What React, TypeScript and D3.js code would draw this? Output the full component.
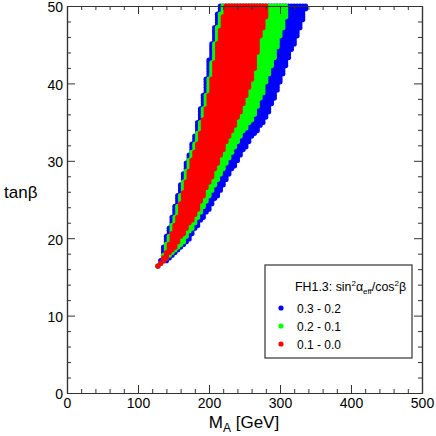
import React, { useEffect, useRef } from "react";
import { select, scaleLinear, axisBottom, axisTop, axisLeft, axisRight, range } from "d3";

// visible band edges of the scan region (M_A in GeV at given tanβ rows)
const tanBetaRows = [16.4, 17.6, 19.3, 22.8, 26.2, 29.7, 33.1, 35.7, 38.7, 42.2, 45.6, 48.2, 50];
const blueLeft = [129.6, 132.0, 136.0, 147.0, 156.5, 166.0, 178.5, 184.5, 191.0, 197.6, 203.7, 208.5, 213.1];
const greenLeft = [129.6, 133.8, 139.4, 150.8, 160.2, 169.6, 182.0, 188.3, 195.0, 201.8, 207.7, 213.2, 217.8];
const redLeft = [129.6, 135.6, 142.7, 154.5, 163.8, 173.2, 185.6, 192.0, 199.0, 206.0, 211.7, 217.9, 222.5];
const redRight = [129.6, 142.7, 156.8, 180.3, 196.8, 213.1, 229.0, 242.7, 255.4, 266.2, 271.8, 280.3, 283.5];
const greenRight = [129.6, 146.0, 163.8, 187.3, 206.0, 225.8, 244.8, 264.8, 276.5, 289.7, 300.0, 308.5, 311.7];
const blueRight = [129.6, 150.7, 168.6, 194.4, 217.9, 239.0, 262.4, 283.5, 295.4, 308.5, 323.5, 333.8, 338.5];

// scan grid
const tanStep = 0.35;
const maStep = 4;

const xMajor = [0, 100, 200, 300, 400, 500];
const yMajor = [0, 10, 20, 30, 40, 50];
const legendLabels = ["0.3 - 0.2", "0.2 - 0.1", "0.1 - 0.0"];
const bandColors = ["#0000ff", "#00ff00", "#ff0000"];

const W = 436;
const H = 436;
const dotR = 2.6;

export default function App() {
  const ref = useRef(null);

  useEffect(() => {
    const svg = select(ref.current);
    svg.selectAll("*").remove();

    const x = scaleLinear().domain([0, 500]).range([67, 422]);
    const y = scaleLinear().domain([0, 50]).range([393, 6]);
    const font = "'Liberation Sans', Arial, sans-serif";

    // piecewise edges
    const edge = (arr) => scaleLinear().domain(tanBetaRows).range(arr);
    const bands = [
      [edge(blueLeft), edge(blueRight)],
      [edge(greenLeft), edge(greenRight)],
      [edge(redLeft), edge(redRight)],
    ];
    // edges were read at the outside of the dots: pull centres in by a radius
    const rGeV = x.invert(67 + dotR) - 0.8;

    const nRows = Math.round((50 - tanBetaRows[0]) / tanStep);
    const maGrid = range(100, 360, maStep);

    bands.forEach(([lo, hi], b) => {
      const pts = [];
      for (let i = 0; i <= nRows; i++) {
        const t = Math.min(50, +(tanBetaRows[0] + i * tanStep).toFixed(2));
        let L = lo(t) + rGeV;
        let R = hi(t) - rGeV;
        if (L > R) {
          const mid = (lo(t) + hi(t)) / 2;
          L = mid;
          R = mid;
        }
        maGrid.forEach((m) => {
          if (m >= L - maStep / 2 && m <= R + maStep / 2) pts.push([m, t]);
        });
      }
      svg.append("g")
        .selectAll("circle")
        .data(pts)
        .join("circle")
        .attr("cx", (d) => x(d[0]))
        .attr("cy", (d) => y(d[1]))
        .attr("r", dotR)
        .attr("fill", bandColors[b]);
    });

    // axes, ticks pointing inward
    const styleAxis = (g) => {
      g.select(".domain").attr("stroke", "#333").attr("stroke-width", 1.2);
      g.selectAll(".tick line").attr("stroke", "#333").attr("stroke-width", 1);
      g.selectAll(".tick text").attr("fill", "#000").style("font-family", font).style("font-size", "14px");
    };
    const minorX = range(0, 501, 20).filter((v) => v % 100 !== 0);
    const minorY = range(0, 51, 2).filter((v) => v % 10 !== 0);

    svg.append("g").attr("transform", "translate(0,393)")
      .call(axisBottom(x).tickValues(xMajor).tickSize(-8).tickSizeOuter(0).tickPadding(5))
      .call(styleAxis);
    svg.append("g").attr("transform", "translate(0,393)")
      .call(axisBottom(x).tickValues(minorX).tickSize(-4).tickSizeOuter(0).tickFormat(() => ""))
      .call(styleAxis);
    svg.append("g").attr("transform", "translate(0,6)")
      .call(axisTop(x).tickValues(xMajor).tickSize(-8).tickSizeOuter(0).tickFormat(() => ""))
      .call(styleAxis);
    svg.append("g").attr("transform", "translate(0,6)")
      .call(axisTop(x).tickValues(minorX).tickSize(-4).tickSizeOuter(0).tickFormat(() => ""))
      .call(styleAxis);
    const yAxisG = svg.append("g").attr("transform", "translate(67,0)")
      .call(axisLeft(y).tickValues(yMajor).tickSize(-8).tickSizeOuter(0).tickPadding(4))
      .call(styleAxis);
    yAxisG.selectAll(".tick text").attr("dy", "0.42em");
    svg.append("g").attr("transform", "translate(67,0)")
      .call(axisLeft(y).tickValues(minorY).tickSize(-4).tickSizeOuter(0).tickFormat(() => ""))
      .call(styleAxis);
    svg.append("g").attr("transform", "translate(422,0)")
      .call(axisRight(y).tickValues(yMajor).tickSize(-8).tickSizeOuter(0).tickFormat(() => ""))
      .call(styleAxis);
    svg.append("g").attr("transform", "translate(422,0)")
      .call(axisRight(y).tickValues(minorY).tickSize(-4).tickSizeOuter(0).tickFormat(() => ""))
      .call(styleAxis);

    // axis titles
    const xt = svg.append("text")
      .attr("x", 244).attr("y", 428)
      .attr("text-anchor", "middle")
      .style("font-family", font).style("font-size", "17px");
    xt.append("tspan").text("M");
    xt.append("tspan").attr("dy", 4).style("font-size", "12px").text("A");
    xt.append("tspan").attr("dy", -4).text(" [GeV]");

    svg.append("text")
      .attr("x", 4).attr("y", 198)
      .style("font-family", font).style("font-size", "17px")
      .text("tanβ");

    // legend
    const lg = svg.append("g");
    lg.append("rect")
      .attr("x", 265).attr("y", 265).attr("width", 147).attr("height", 93)
      .attr("fill", "#fff").attr("stroke", "#333").attr("stroke-width", 1.2);
    const title = lg.append("text")
      .attr("x", 295).attr("y", 291)
      .style("font-family", font).style("font-size", "12.4px");
    title.append("tspan").text("FH1.3: sin");
    title.append("tspan").attr("dy", -5).style("font-size", "8px").text("2");
    title.append("tspan").attr("dy", 5).text("α");
    title.append("tspan").attr("dy", 3).style("font-size", "8px").text("eff");
    title.append("tspan").attr("dy", -3).text("/cos");
    title.append("tspan").attr("dy", -5).style("font-size", "8px").text("2");
    title.append("tspan").attr("dy", 5).text("β");

    legendLabels.forEach((lab, i) => {
      const cy = 308 + i * 18;
      lg.append("circle").attr("cx", 281).attr("cy", cy).attr("r", dotR).attr("fill", bandColors[i]);
      lg.append("text")
        .attr("x", 297).attr("y", cy + 4.5)
        .style("font-family", font).style("font-size", "12px")
        .text(lab);
    });
  }, []);

  return (
    <svg
      ref={ref}
      width={W}
      height={H}
      style={{ position: "absolute", left: 0, top: 0, background: "#fff" }}
    />
  );
}
